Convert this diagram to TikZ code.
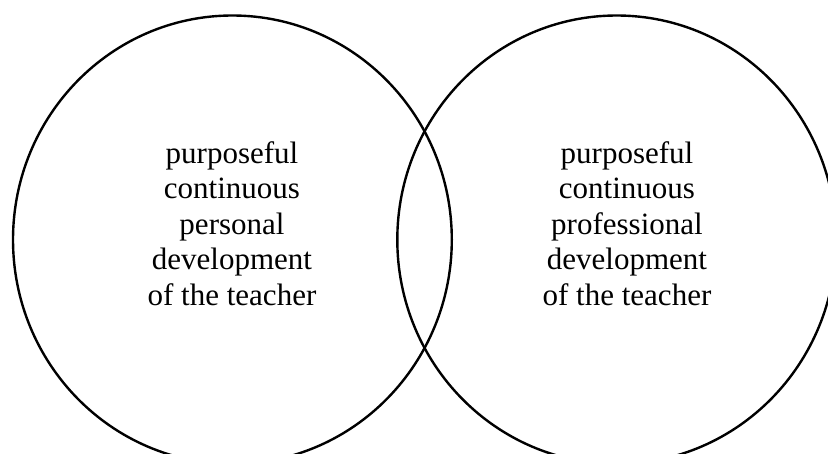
\documentclass[tikz,border=0pt]{standalone}
\usepackage{fontspec}
\setmainfont{Liberation Serif}
\begin{document}
\begin{tikzpicture}[x=1pt,y=-1pt,
  ring/.style={draw=black,line width=2.4pt},
  label/.style={align=center,inner sep=0pt,font=\fontsize{31}{35.5}\selectfont}]
\useasboundingbox (0,0) rectangle (828,454);
\begin{scope}
\clip (0,0) rectangle (828,454);
\draw[ring] (232.4,239.7) ellipse[x radius=219.4,y radius=224.2];
\draw[ring] (616.7,239.7) ellipse[x radius=219.4,y radius=224.2];
\end{scope}
\node[label] (personal) at (232,223.5) {purposeful\\continuous\\personal\\development\\of the teacher};
\node[label] (professional) at (627,223.5) {purposeful\\continuous\\professional\\development\\of the teacher};
\end{tikzpicture}
\end{document}
